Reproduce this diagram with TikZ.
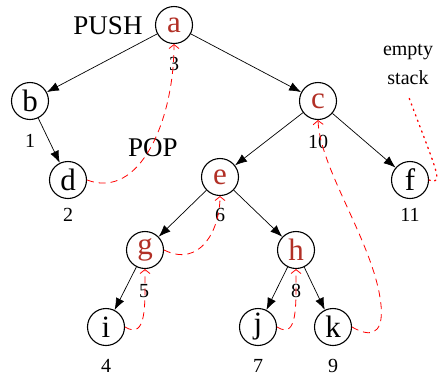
\documentclass[tikz,border=0pt]{standalone}
\usepackage{fontspec}
\setmainfont{Liberation Serif}
\usetikzlibrary{arrows.meta}
\definecolor{nodered}{RGB}{178,48,38}
\tikzset{
  vtx/.style={circle,draw=black,line width=1.1pt,minimum size=37pt,inner sep=0pt,font=\fontsize{31}{31}\selectfont},
  rvtx/.style={vtx,text=nodered},
  edge/.style={-{Latex[length=12pt,width=9pt]},line width=0.7pt},
  ret/.style={red,dashed,dash pattern=on 7pt off 5pt,line width=0.8pt,-{Straight Barb[length=4pt,width=10pt]}},
  num/.style={font=\fontsize{20}{20}\selectfont},
  word/.style={font=\fontsize{27}{27}\selectfont},
  small/.style={font=\fontsize{20}{20}\selectfont}
}
\begin{document}
\begin{tikzpicture}[x=1pt,y=-1pt]
\useasboundingbox (0,0) rectangle (444,381);
\node[rvtx] (a) at (174,25) {a};
\node[vtx] (b) at (30,101) {b};
\node[rvtx] (c) at (318,101) {c};
\node[vtx] (d) at (68,180) {d};
\node[rvtx] (e) at (220,177) {e};
\node[vtx] (f) at (410,180) {f};
\node[rvtx] (g) at (145,250) {g};
\node[rvtx] (h) at (296,250) {h};
\node[vtx] (i) at (106,327) {i};
\node[vtx] (j) at (258,327) {j};
\node[vtx] (k) at (333,327) {k};

\draw[edge] (a) -- (b);
\draw[edge] (a) -- (c);
\draw[edge] (b) -- (d);
\draw[edge] (c) -- (e);
\draw[edge] (c) -- (f);
\draw[edge] (e) -- (g);
\draw[edge] (e) -- (h);
\draw[edge] (g) -- (i);
\draw[edge] (h) -- (j);
\draw[edge] (h) -- (k);

\node[num] (n1) at (30,141) {1};
\node[num] (n2) at (68,215) {2};
\node[num] (n3) at (174,64) {3};
\node[num] (n4) at (106,366) {4};
\node[num] (n5) at (144,291) {5};
\node[num] (n6) at (220,215) {6};
\node[num] (n7) at (258,366) {7};
\node[num] (n8) at (296,291) {8};
\node[num] (n9) at (333,366) {9};
\node[num] (n10) at (318,142) {10};
\node[num] (n11) at (410,215) {11};

\node[word] (push) at (108,26) {PUSH};
\node[word] (pop) at (153,148) {POP};
\node[small] (empty) at (408,52) {empty};
\node[small] (stack) at (408,78) {stack};

\draw[ret] (d.east) .. controls (140,200) and (174,120) .. (a.south);
\draw[ret] (g.east) .. controls (200,268) and (220,230) .. (e.south);
\draw[ret] (i.east) .. controls (147,340) and (145,305) .. (g.south);
\draw[ret] (j.east) .. controls (298,340) and (296,305) .. (h.south);
\coordinate (kc) at (381,305);
\draw[ret] (k.east) .. controls (378,342) and (383,325) .. (kc) .. controls (375,245) and (320,170) .. (c.south);
\coordinate (es) at (408,95);
\draw[red,line width=1.3pt,dash pattern=on 1.3pt off 4.5pt,line cap=round] (f.east) .. controls (445,186) and (436,170) .. (es);
\end{tikzpicture}
\end{document}
